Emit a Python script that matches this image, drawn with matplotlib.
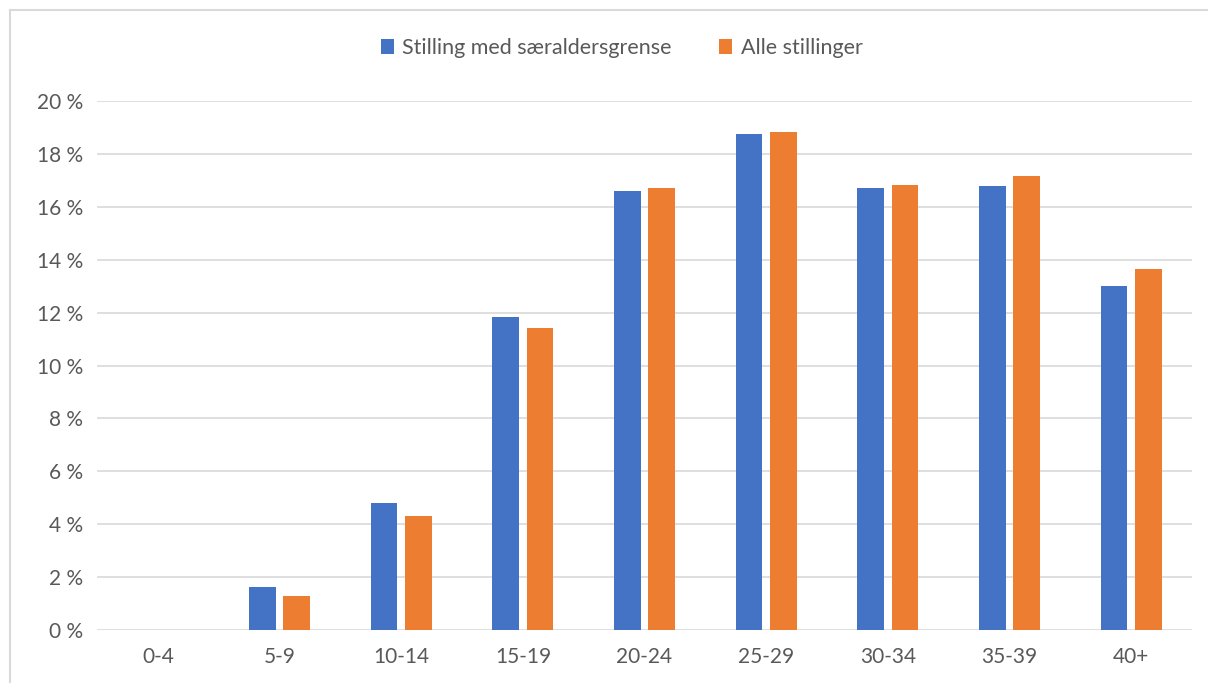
import numpy as np
import matplotlib.pyplot as plt
from matplotlib.lines import Line2D

plt.rcParams['font.family'] = ['Lato', 'DejaVu Sans']

groups = ["0-4", "5-9", "10-14", "15-19", "20-24", "25-29", "30-34", "35-39", "40+"]
saer = [0.0, 1.61, 4.81, 11.83, 16.6, 18.74, 16.7, 16.79, 13.0]
alle = [0.0, 1.27, 4.32, 11.41, 16.7, 18.83, 16.84, 17.18, 13.64]
names = ["Stilling med særaldersgrense", "Alle stillinger"]
yticks = [0, 2, 4, 6, 8, 10, 12, 14, 16, 18, 20]

blue = "#4472c4"
orange = "#ed7d31"
txt = "#595959"

fig = plt.figure(figsize=(12.08, 6.83), dpi=100)
ax = fig.add_axes([97/1208, 1 - 630/683, (1192 - 97)/1208, (630 - 101)/683])

x = np.arange(len(groups))
w = 0.22
ax.bar(x - 0.142, saer, w, color=blue, label=names[0], zorder=3)
ax.bar(x + 0.142, alle, w, color=orange, label=names[1], zorder=3)

ax.set_xlim(-0.5, len(groups) - 0.5)
ax.set_ylim(0, 20)
ax.set_yticks(yticks)
ax.set_yticklabels([f"{v} %" for v in yticks])
ax.set_xticks(x)
ax.set_xticklabels(groups)
ax.tick_params(axis='both', length=0, colors=txt, labelsize=15)
ax.tick_params(axis='x', pad=12)
ax.tick_params(axis='y', pad=10)
ax.grid(axis='y', color="#d9d9d9", linewidth=1.2, zorder=0)
for s in ax.spines.values():
    s.set_visible(False)

ax.legend(loc='lower center', bbox_to_anchor=(0.479, 1.045), ncol=2, frameon=False,
          fontsize=15.5, labelcolor=txt, handlelength=0.6, handleheight=0.7,
          handletextpad=0.4, columnspacing=2.2)

# chart border (top and left visible)
fig.add_artist(Line2D([10/1208, 10/1208], [0, 1 - 10/683], transform=fig.transFigure,
                      color="#d9d9d9", linewidth=1.5))
fig.add_artist(Line2D([10/1208, 1], [1 - 10/683, 1 - 10/683], transform=fig.transFigure,
                      color="#d9d9d9", linewidth=1.5))

fig.savefig("out.png", dpi=100)
